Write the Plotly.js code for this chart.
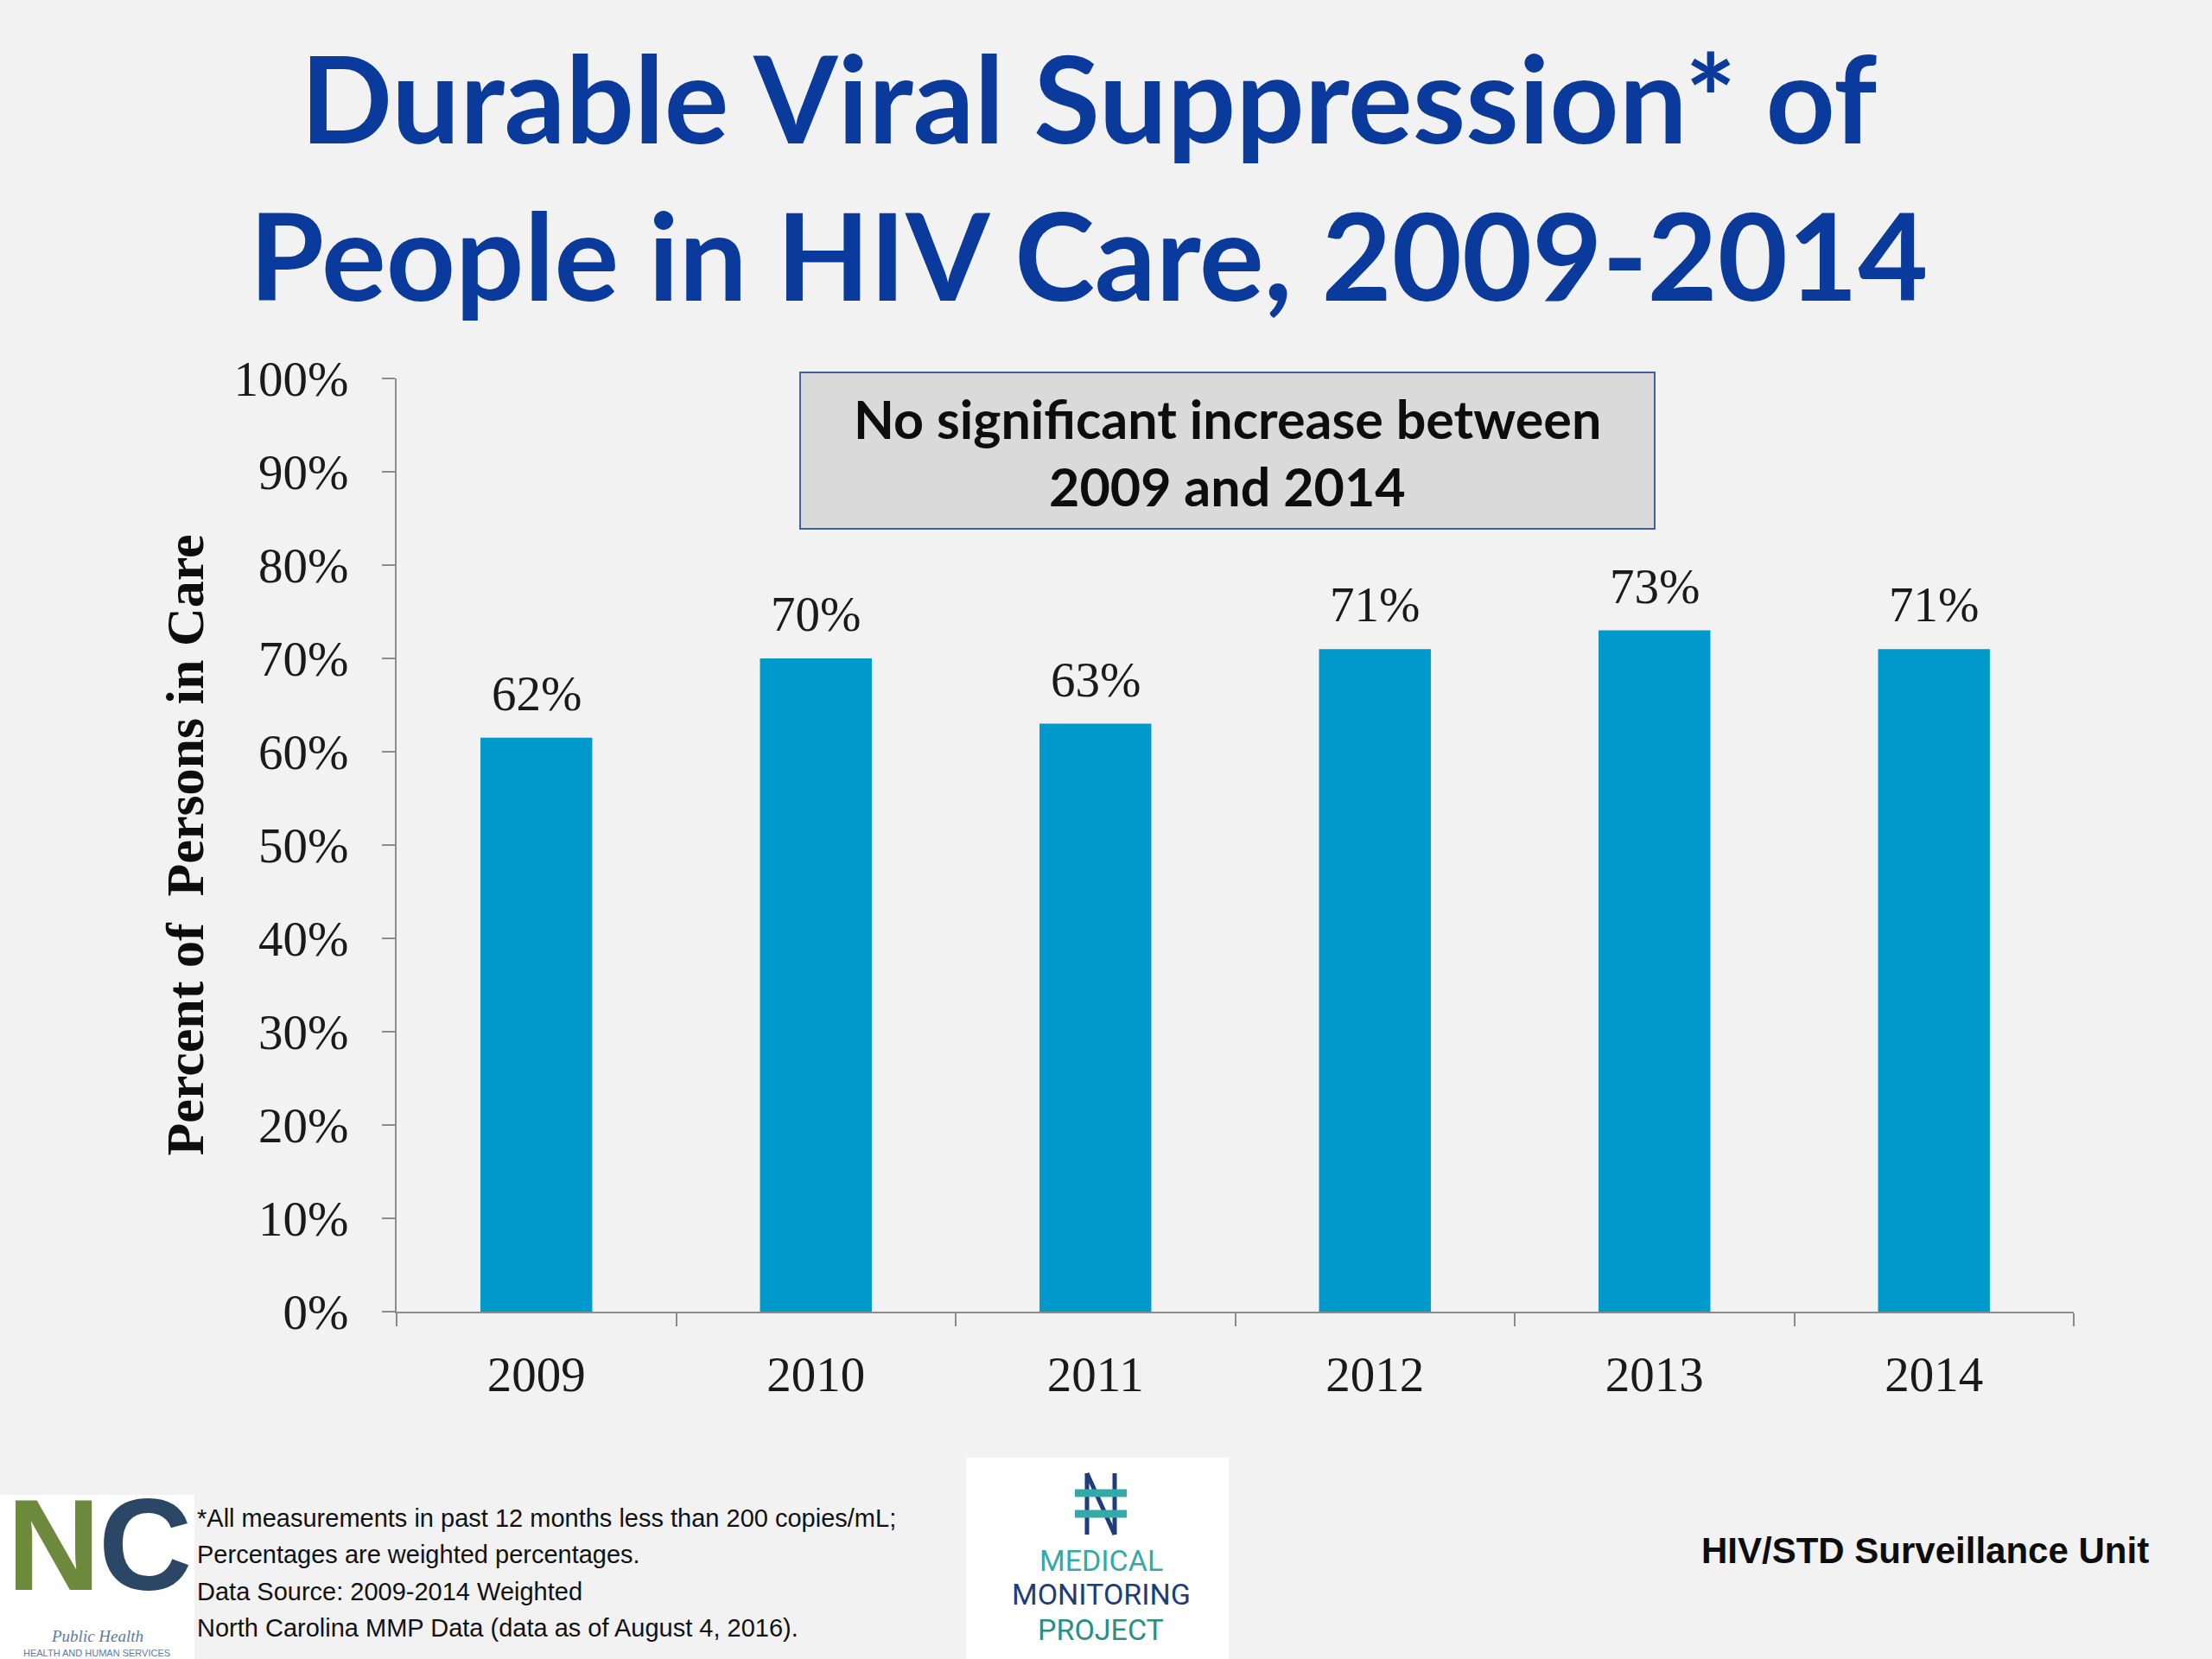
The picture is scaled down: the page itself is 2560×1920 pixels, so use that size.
<!DOCTYPE html>
<html>
<head>
<meta charset="utf-8">
<script src="https://cdn.plot.ly/plotly-3.0.1.min.js"></script>
<style>html,body{margin:0;padding:0;background:#f2f2f2;}#chart{width:2560px;height:1920px;}</style>
</head>
<body>
<div id="chart"></div>
<script>
// ---- data ----
const years = ['2009', '2010', '2011', '2012', '2013', '2014'];
const percentSuppressed = [61.5, 70, 63, 71, 73, 71];
const barLabels = ['62%', '70%', '63%', '71%', '73%', '71%'];
const yTickValues = [0, 10, 20, 30, 40, 50, 60, 70, 80, 90, 100];
const yTickLabels = ['0%', '10%', '20%', '30%', '40%', '50%', '60%', '70%', '80%', '90%', '100%'];
const titleLines = ['Durable Viral Suppression* of', 'People in HIV Care, 2009-2014'];
const boxLines = ['No significant increase between', '2009 and 2014'];
const footnoteLines = [
  '*All measurements in past 12 months less than 200 copies/mL;',
  'Percentages are weighted percentages.',
  'Data Source: 2009-2014 Weighted',
  'North Carolina MMP Data (data as of August 4, 2016).'
];
const unitLabel = 'HIV/STD Surveillance Unit';
const yAxisTitle = 'Percent of  Persons in Care';

// ---- layout helpers (pixel -> paper) ----
const W = 2560, H = 1920;
const M = {l: 459, r: 160, t: 438, b: 402};
const PW = W - M.l - M.r, PH = H - M.t - M.b;
const px = x => (x - M.l) / PW;
const py = y => (H - M.b - y) / PH;

const serif = 'Liberation Serif, Times New Roman, serif';
const sans = 'Liberation Sans, Arial, sans-serif';
const calib = 'Lato, Open Sans, sans-serif';

const trace = {
  type: 'bar',
  x: years,
  y: percentSuppressed,
  width: 0.4,
  marker: {color: '#0099cc'},
  hoverinfo: 'skip'
};

const annotations = [];
// bar value labels (category index on the x axis)
years.forEach((yr, i) => {
  annotations.push({
    x: i, y: percentSuppressed[i], xref: 'x', yref: 'y',
    text: barLabels[i], showarrow: false,
    xanchor: 'center', yanchor: 'bottom', yshift: 18,
    font: {family: serif, size: 57, color: '#1a1a1a'}
  });
});
// note box text
const boxCY = [484, 562];
boxLines.forEach((t, i) => {
  annotations.push({
    x: px(1420), y: py(boxCY[i]), xref: 'paper', yref: 'paper',
    text: '<b>' + t + '</b>', showarrow: false, xanchor: 'center', yanchor: 'middle',
    font: {family: calib, size: 61, color: '#0d0d0d'}
  });
});
// footnote
const footY = [1757, 1799, 1842, 1884];
footnoteLines.forEach((t, i) => {
  annotations.push({
    x: px(226), y: py(footY[i]), xref: 'paper', yref: 'paper',
    text: t, showarrow: false, xanchor: 'left', yanchor: 'middle',
    font: {family: sans, size: 29, color: '#111111'}
  });
});
// surveillance unit
annotations.push({
  x: px(1967), y: py(1794), xref: 'paper', yref: 'paper',
  text: '<b>' + unitLabel + '</b>', showarrow: false, xanchor: 'left', yanchor: 'middle',
  font: {family: sans, size: 42, color: '#0d0d0d'}
});
// NC logo (approximation)
annotations.push({x: px(62), y: py(1788), xref: 'paper', yref: 'paper', text: '<b>N</b>', showarrow: false,
  xanchor: 'center', yanchor: 'middle', font: {family: sans, size: 150, color: '#6d8a3c'}});
annotations.push({x: px(168), y: py(1788), xref: 'paper', yref: 'paper', text: '<b>C</b>', showarrow: false,
  xanchor: 'center', yanchor: 'middle', font: {family: sans, size: 150, color: '#2c4766'}});
annotations.push({x: px(112), y: py(1893), xref: 'paper', yref: 'paper', text: '<i>Public Health</i>', showarrow: false,
  xanchor: 'center', yanchor: 'middle', font: {family: serif, size: 19, color: '#5a7aa8'}});
annotations.push({x: px(112), y: py(1913), xref: 'paper', yref: 'paper', text: 'HEALTH AND HUMAN SERVICES', showarrow: false,
  xanchor: 'center', yanchor: 'middle', font: {family: sans, size: 11, color: '#5a7aa8'}});
// MMP logo text
const mmpWords = ['MEDICAL', 'MONITORING', 'PROJECT'];
const mmpColors = ['#35a8a8', '#1d3d7a', '#2a8f80'];
const mmpY = [1806, 1845, 1886];
mmpWords.forEach((t, i) => {
  annotations.push({x: px(1274), y: py(mmpY[i]), xref: 'paper', yref: 'paper', text: t, showarrow: false,
    xanchor: 'center', yanchor: 'middle', font: {family: 'Roboto, ' + sans, size: 34, color: mmpColors[i]}});
});

const shapes = [
  // note box
  {type: 'rect', xref: 'paper', yref: 'paper', x0: px(926), x1: px(1915), y0: py(612), y1: py(431),
   fillcolor: '#dadada', line: {color: '#3f5fa8', width: 2}, layer: 'above'},
  // NC logo background
  {type: 'rect', xref: 'paper', yref: 'paper', x0: px(0), x1: px(225), y0: py(1920), y1: py(1730),
   fillcolor: '#ffffff', line: {width: 0}},
  // MMP logo background
  {type: 'rect', xref: 'paper', yref: 'paper', x0: px(1118), x1: px(1422), y0: py(1920), y1: py(1687),
   fillcolor: '#ffffff', line: {width: 0}},
  // MMP icon
  {type: 'line', xref: 'paper', yref: 'paper', x0: px(1258), x1: px(1258), y0: py(1705), y1: py(1776), line: {color: '#1f3d7a', width: 5}},
  {type: 'line', xref: 'paper', yref: 'paper', x0: px(1290), x1: px(1290), y0: py(1705), y1: py(1776), line: {color: '#1f3d7a', width: 5}},
  {type: 'line', xref: 'paper', yref: 'paper', x0: px(1258), x1: px(1290), y0: py(1705), y1: py(1776), line: {color: '#1f3d7a', width: 5}},
  {type: 'line', xref: 'paper', yref: 'paper', x0: px(1244), x1: px(1304), y0: py(1728), y1: py(1728), line: {color: '#35a8a8', width: 9}},
  {type: 'line', xref: 'paper', yref: 'paper', x0: px(1244), x1: px(1304), y0: py(1752), y1: py(1752), line: {color: '#35a8a8', width: 9}}
];

const layout = {
  width: W, height: H,
  margin: M,
  paper_bgcolor: '#f2f2f2',
  plot_bgcolor: '#f2f2f2',
  showlegend: false,
  title: {
    text: titleLines.join('<br>'),
    font: {family: calib, size: 140, color: '#0a3a9c', weight: 'bold'},
    x: 1260 / W, xanchor: 'center', xref: 'container',
    y: 1 - 166 / H, yanchor: 'top', yref: 'container'
  },
  xaxis: {
    type: 'category',
    range: [-0.5, 5.5],
    tickson: 'boundaries',
    ticks: 'outside', ticklen: 15, tickwidth: 2, tickcolor: '#8c8c8c',
    showline: true, linecolor: '#8c8c8c', linewidth: 2,
    showgrid: false, zeroline: false,
    tickfont: {family: serif, size: 57, color: '#1a1a1a'},
    ticklabelstandoff: 22,
    fixedrange: true
  },
  yaxis: {
    range: [0, 100],
    tickmode: 'array',
    tickvals: yTickValues,
    ticktext: yTickLabels,
    ticks: 'outside', ticklen: 15, tickwidth: 2, tickcolor: '#8c8c8c',
    showline: true, linecolor: '#8c8c8c', linewidth: 2,
    showgrid: false, zeroline: false,
    tickfont: {family: serif, size: 57, color: '#1a1a1a'},
    ticklabelstandoff: 27,
    title: {text: '<b>' + yAxisTitle + '</b>', standoff: 15,
            font: {family: serif, size: 62, color: '#0d0d0d'}},
    fixedrange: true
  },
  bargap: 0.6,
  annotations: annotations,
  shapes: shapes
};

Plotly.newPlot('chart', [trace], layout, {displayModeBar: false, staticPlot: true});
</script>
</body>
</html>
